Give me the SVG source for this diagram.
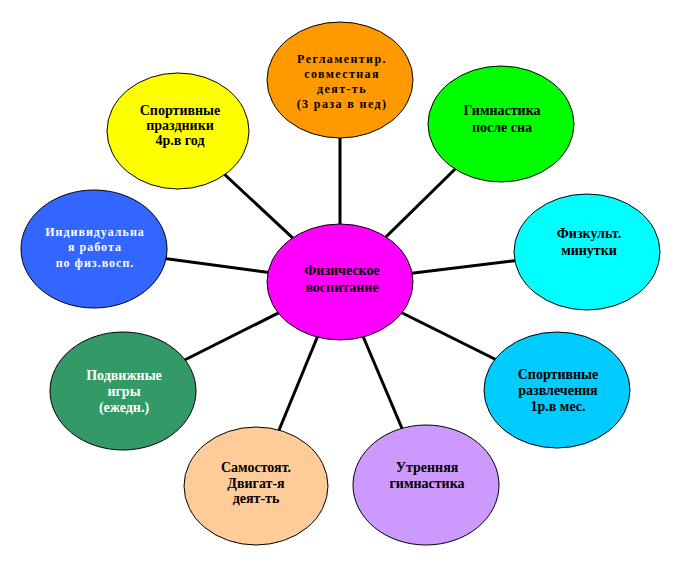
<svg xmlns="http://www.w3.org/2000/svg" width="681" height="576" viewBox="0 0 681 576">
<style>
.n{stroke:#000;stroke-width:1}
.t{font-family:"Liberation Serif","Times New Roman",serif;font-weight:bold;font-size:14px;text-anchor:middle;fill:#000}
.w{fill:#fff}
.s{font-size:12px;letter-spacing:1.4px}
.c line{stroke:#000;stroke-width:3}
</style>
<rect width="681" height="576" fill="#fff"/>
<g id="connectors" class="c">
<line x1="340" y1="282" x2="340" y2="80"/>
<line x1="340" y1="282" x2="178" y2="131"/>
<line x1="340" y1="282" x2="501" y2="124"/>
<line x1="340" y1="282" x2="94" y2="249"/>
<line x1="340" y1="282" x2="587" y2="252"/>
<line x1="340" y1="282" x2="123" y2="391"/>
<line x1="340" y1="282" x2="557" y2="390"/>
<line x1="340" y1="282" x2="256" y2="486"/>
<line x1="340" y1="282" x2="426" y2="485"/>
</g>
<g id="reglament">
<ellipse class="n" cx="340" cy="80" rx="73" ry="58" fill="#FF9900"/>
<text class="t s" x="342" y="63">Регламентир.</text>
<text class="t s" x="342" y="78">совместная</text>
<text class="t s" x="342" y="93">деят-ть</text>
<text class="t s" x="342" y="108">(3 раза в нед)</text>
</g>
<g id="prazdniki">
<ellipse class="n" cx="178" cy="131" rx="71" ry="58" fill="#FFFF00"/>
<text class="t" x="180" y="115">Спортивные</text>
<text class="t" x="180" y="130">праздники</text>
<text class="t" x="180" y="145">4р.в год</text>
</g>
<g id="gimn-son">
<ellipse class="n" cx="501" cy="124" rx="73" ry="58" fill="#00FF00"/>
<text class="t" x="502" y="115">Гимнастика</text>
<text class="t" x="502" y="132">после сна</text>
</g>
<g id="individ">
<ellipse class="n" cx="94" cy="249" rx="73" ry="59" fill="#3366FF"/>
<text class="t s w" x="95" y="236" style="letter-spacing:1px">Индивидуальна</text>
<text class="t s w" x="95" y="251" style="letter-spacing:1px">я работа</text>
<text class="t s w" x="95" y="267" style="letter-spacing:1px">по физ.восп.</text>
</g>
<g id="fizkult">
<ellipse class="n" cx="587" cy="252" rx="73" ry="58" fill="#00FFFF"/>
<text class="t" x="589" y="238">Физкульт.</text>
<text class="t" x="589" y="255">минутки</text>
</g>
<g id="center">
<ellipse class="n" cx="340" cy="282" rx="73" ry="58" fill="#FF00FF"/>
<text class="t" x="342" y="275">Физическое</text>
<text class="t" x="342" y="292">воспитание</text>
</g>
<g id="podvizh">
<ellipse class="n" cx="123" cy="391" rx="73" ry="59" fill="#339966"/>
<text class="t w" x="124" y="380">Подвижные</text>
<text class="t w" x="124" y="396">игры</text>
<text class="t w" x="124" y="412">(ежедн.)</text>
</g>
<g id="razvlech">
<ellipse class="n" cx="557" cy="390" rx="73" ry="58" fill="#00CCFF"/>
<text class="t" x="558" y="379">Спортивные</text>
<text class="t" x="558" y="395">развлечения</text>
<text class="t" x="558" y="411">1р.в мес.</text>
</g>
<g id="samost">
<ellipse class="n" cx="256" cy="486" rx="72" ry="59" fill="#FFCC99"/>
<text class="t" x="256" y="472">Самостоят.</text>
<text class="t" x="256" y="488">Двигат-я</text>
<text class="t" x="256" y="503">деят-ть</text>
</g>
<g id="utren">
<ellipse class="n" cx="426" cy="485" rx="73" ry="60" fill="#CC99FF"/>
<text class="t" x="427" y="472">Утренняя</text>
<text class="t" x="427" y="488">гимнастика</text>
</g>
</svg>
